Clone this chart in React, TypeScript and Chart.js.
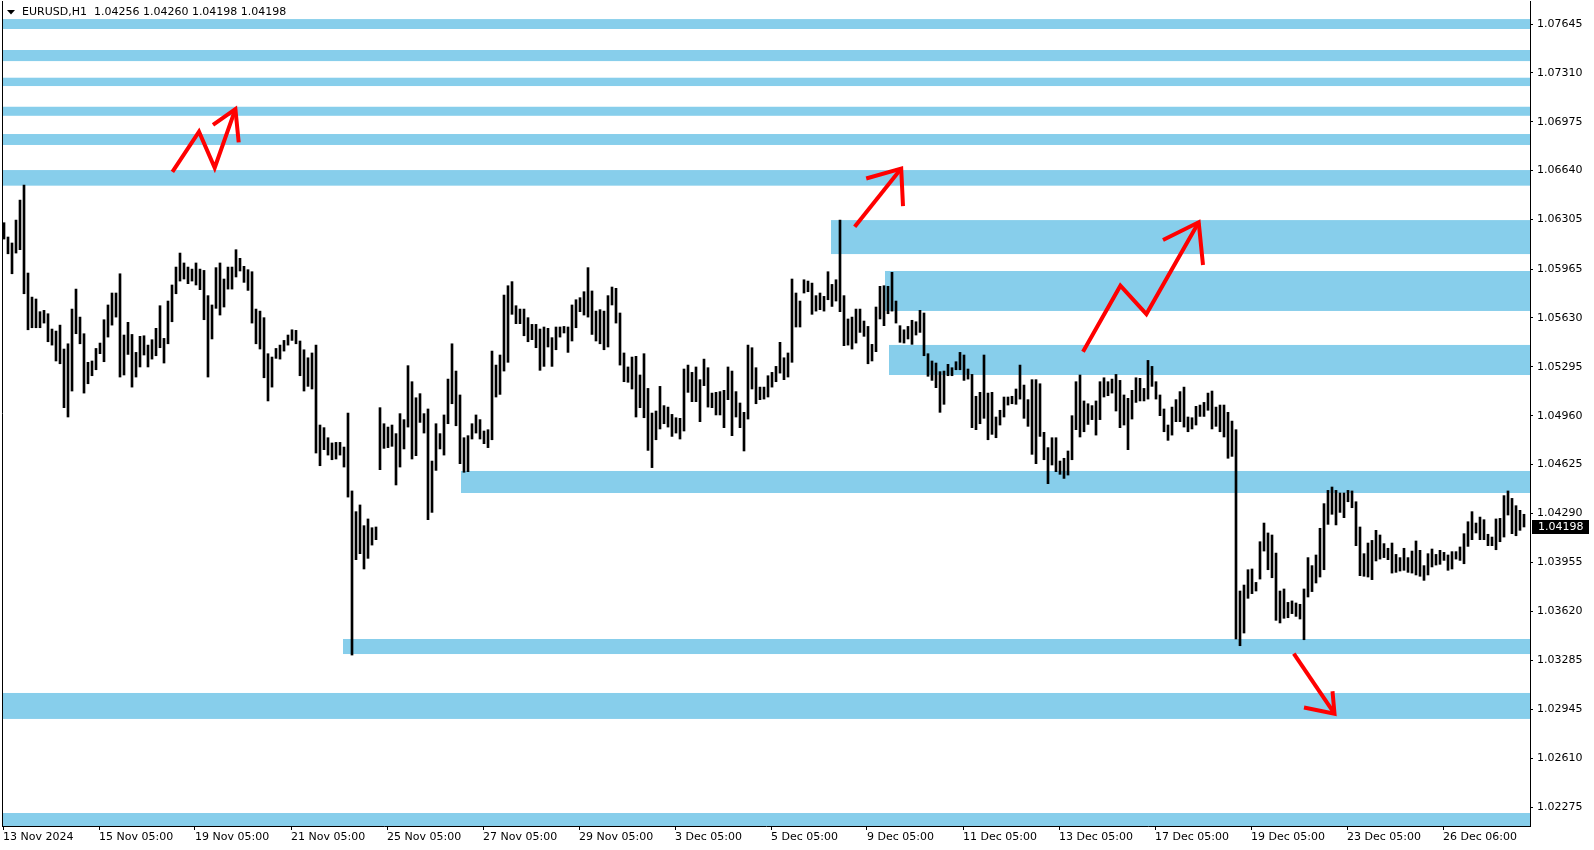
import React, { useEffect, useRef } from 'react';
import { Chart, registerables } from 'chart.js';

Chart.register(...registerables);

// ---------- DATA ----------
const symbolTitle = 'EURUSD,H1';
const lastQuote = [1.04256, 1.0426, 1.04198, 1.04198]; // open high low close of the last H1 bar

// Each entry = two H1 bars (2-hour high / low), in time order
const highs = [
  1.06283, 1.06185, 1.06144, 1.06301, 1.06438, 1.06541, 1.05938, 1.05773, 1.0576, 1.05673,
  1.05682, 1.05659, 1.05554, 1.0554, 1.05581, 1.05417, 1.05453, 1.05691, 1.05828, 1.05636,
  1.05522, 1.05326, 1.05335, 1.05421, 1.05458, 1.05618, 1.05719, 1.05801, 1.05801, 1.05933,
  1.05513, 1.056, 1.05517, 1.05394, 1.05504, 1.05508, 1.05444, 1.05481, 1.05559, 1.05714,
  1.0549, 1.05746, 1.05856, 1.05979, 1.06075, 1.06007, 1.05979, 1.05965, 1.06007, 1.05965,
  1.05956, 1.05783, 1.05719, 1.05975, 1.06007, 1.05897, 1.05979, 1.05979, 1.06098, 1.06039,
  1.05984, 1.05961, 1.05947, 1.05691, 1.05677, 1.05632, 1.05385, 1.05362, 1.05421, 1.05444,
  1.05476, 1.05513, 1.05549, 1.05545, 1.05472, 1.05412, 1.05357, 1.0539, 1.05444, 1.04896,
  1.04878, 1.04809, 1.04773, 1.04777, 1.04777, 1.04745, 1.04978, 1.04444, 1.04302, 1.04348,
  1.04206, 1.04252, 1.04192, 1.04197, 1.05015, 1.04905, 1.04882, 1.04896, 1.04837, 1.04974,
  1.04933, 1.05303, 1.05193, 1.05083, 1.05111, 1.04974, 1.05006, 1.04649, 1.04905, 1.04837,
  1.04965, 1.05211, 1.05453, 1.05266, 1.05102, 1.04809, 1.04823, 1.04905, 1.04965, 1.04933,
  1.04855, 1.04864, 1.05403, 1.05307, 1.05376, 1.05787, 1.05851, 1.05879, 1.05714, 1.05691,
  1.05691, 1.05632, 1.05586, 1.05586, 1.05554, 1.05568, 1.05559, 1.05495, 1.05568, 1.05568,
  1.05572, 1.05568, 1.05719, 1.05755, 1.05769, 1.0581, 1.05975, 1.05815, 1.05677, 1.05687,
  1.05677, 1.05783, 1.05842, 1.05833, 1.05664, 1.0539, 1.05294, 1.05362, 1.05367, 1.05239,
  1.05385, 1.05147, 1.04978, 1.04992, 1.05161, 1.05029, 1.05019, 1.04969, 1.04946, 1.04942,
  1.0528, 1.05307, 1.05257, 1.05294, 1.05207, 1.05348, 1.05289, 1.05115, 1.0512, 1.05125,
  1.05134, 1.05294, 1.05266, 1.05125, 1.05047, 1.04983, 1.05444, 1.05426, 1.05289, 1.05156,
  1.05156, 1.05234, 1.05257, 1.05298, 1.05463, 1.05357, 1.0539, 1.05897, 1.05801, 1.05746,
  1.05892, 1.05883, 1.05869, 1.05783, 1.05801, 1.05778, 1.05947, 1.0586, 1.05892, 1.06301,
  1.05783, 1.05623, 1.05636, 1.05691, 1.05691, 1.05609, 1.05572, 1.05449, 1.05705, 1.05847,
  1.05851, 1.05847, 1.05943, 1.05746, 1.05577, 1.05549, 1.05572, 1.05614, 1.05604, 1.05682,
  1.05664, 1.05385, 1.05335, 1.05321, 1.05262, 1.05266, 1.05312, 1.05289, 1.0533, 1.05394,
  1.05376, 1.0528, 1.05243, 1.05093, 1.0512, 1.05376, 1.05115, 1.0512, 1.04951, 1.04997,
  1.05088, 1.05088, 1.05093, 1.05143, 1.05307, 1.0517, 1.0507, 1.05207, 1.05207, 1.05179,
  1.04846, 1.04741, 1.04809, 1.04809, 1.04649, 1.04668, 1.04718, 1.0496, 1.05193, 1.05239,
  1.05061, 1.05042, 1.05029, 1.05061, 1.05193, 1.0522, 1.05193, 1.05211, 1.05243, 1.05202,
  1.05102, 1.05079, 1.05134, 1.0522, 1.05216, 1.05147, 1.05339, 1.05298, 1.05193, 1.05102,
  1.05006, 1.04896, 1.05019, 1.0507, 1.05125, 1.05156, 1.04951, 1.04946, 1.05024, 1.05033,
  1.05051, 1.05115, 1.05129, 1.05019, 1.05033, 1.05033, 1.04983, 1.04923, 1.04864, 1.03758,
  1.03799, 1.03904, 1.03909, 1.03817, 1.04096, 1.04224, 1.04156, 1.04142, 1.04018, 1.03758,
  1.03772, 1.0368, 1.0369, 1.03676, 1.03667, 1.03772, 1.03987, 1.03932, 1.04005, 1.04188,
  1.04357, 1.04448, 1.04471, 1.04448, 1.0443, 1.0443, 1.04448, 1.04444, 1.0437, 1.04197,
  1.04014, 1.04087, 1.04105, 1.04174, 1.04142, 1.04083, 1.04051, 1.04087, 1.04009, 1.03987,
  1.04051, 1.03987, 1.04032, 1.04101, 1.04037, 1.03932, 1.04014, 1.04046, 1.04009, 1.04037,
  1.04023, 1.04005, 1.04028, 1.04028, 1.0406, 1.04151, 1.04233, 1.04302, 1.04224, 1.04265,
  1.04247, 1.04147, 1.04128, 1.04252, 1.04256, 1.04412, 1.04444, 1.04393, 1.04343, 1.04311,
  1.04284,
];

const lows = [
  1.06171, 1.0607, 1.05933, 1.06075, 1.06098, 1.05796, 1.05549, 1.05563, 1.05563, 1.05563,
  1.05595, 1.05467, 1.05444, 1.05335, 1.05316, 1.05015, 1.04951, 1.05129, 1.05522, 1.05453,
  1.05115, 1.05179, 1.05234, 1.05275, 1.05385, 1.0533, 1.05499, 1.05581, 1.05636, 1.05225,
  1.05239, 1.0538, 1.05156, 1.05225, 1.05294, 1.05376, 1.05294, 1.05348, 1.05371, 1.05426,
  1.05321, 1.05453, 1.05604, 1.05796, 1.05883, 1.05897, 1.05865, 1.05883, 1.05856, 1.05824,
  1.05618, 1.05225, 1.05486, 1.05696, 1.0565, 1.05705, 1.05828, 1.05828, 1.05911, 1.05952,
  1.05874, 1.05819, 1.05595, 1.05453, 1.05417, 1.0522, 1.05061, 1.05156, 1.05353, 1.05348,
  1.05403, 1.05444, 1.05476, 1.05453, 1.05234, 1.05129, 1.05161, 1.05143, 1.04704, 1.04617,
  1.04727, 1.0469, 1.04658, 1.04663, 1.0469, 1.04608, 1.04402, 1.03319, 1.03973, 1.04014,
  1.03909, 1.03982, 1.04073, 1.0411, 1.0459, 1.04736, 1.04741, 1.0475, 1.04485, 1.04608,
  1.04732, 1.04882, 1.04663, 1.04686, 1.04914, 1.04841, 1.04247, 1.04297, 1.04585, 1.04732,
  1.0469, 1.04905, 1.05042, 1.04891, 1.04631, 1.04572, 1.04576, 1.048, 1.04841, 1.048,
  1.04768, 1.04741, 1.04795, 1.05088, 1.05106, 1.05266, 1.05326, 1.05655, 1.05591, 1.05591,
  1.05508, 1.05467, 1.05481, 1.05426, 1.05271, 1.05298, 1.05431, 1.05298, 1.05412, 1.05499,
  1.05527, 1.05394, 1.05472, 1.05563, 1.05673, 1.0565, 1.05636, 1.05517, 1.05472, 1.05453,
  1.05412, 1.05431, 1.05719, 1.05595, 1.05307, 1.05193, 1.05189, 1.05143, 1.04951, 1.05015,
  1.04946, 1.04722, 1.04604, 1.04795, 1.04869, 1.04905, 1.04882, 1.04818, 1.04841, 1.048,
  1.04855, 1.0512, 1.05056, 1.05056, 1.04919, 1.05166, 1.05019, 1.05015, 1.04965, 1.04965,
  1.04878, 1.0507, 1.04823, 1.04951, 1.04878, 1.04718, 1.04937, 1.05143, 1.05042, 1.0507,
  1.05074, 1.05088, 1.05156, 1.05193, 1.05252, 1.05207, 1.05225, 1.05326, 1.05568, 1.05568,
  1.05801, 1.0581, 1.05655, 1.05677, 1.05687, 1.05677, 1.05755, 1.05709, 1.05746, 1.05673,
  1.0544, 1.05444, 1.05417, 1.05458, 1.05531, 1.05504, 1.05316, 1.05335, 1.05399, 1.05623,
  1.05577, 1.05659, 1.05677, 1.05595, 1.05463, 1.05458, 1.05486, 1.05449, 1.05513, 1.05531,
  1.05371, 1.0523, 1.05202, 1.05152, 1.04983, 1.05038, 1.05234, 1.05234, 1.05275, 1.05275,
  1.05202, 1.05211, 1.04878, 1.04864, 1.04905, 1.04942, 1.04795, 1.04832, 1.04809, 1.04896,
  1.04951, 1.05033, 1.05042, 1.05038, 1.05074, 1.04942, 1.04887, 1.04695, 1.04631, 1.04818,
  1.04658, 1.04494, 1.04622, 1.04576, 1.04558, 1.0453, 1.04553, 1.04658, 1.04864, 1.04814,
  1.0485, 1.049, 1.04933, 1.04827, 1.04933, 1.05088, 1.05097, 1.05115, 1.04992, 1.04878,
  1.04896, 1.04727, 1.04937, 1.05051, 1.05061, 1.05061, 1.05074, 1.05161, 1.05074, 1.0496,
  1.0485, 1.04791, 1.04827, 1.04919, 1.04919, 1.04882, 1.0485, 1.04869, 1.04896, 1.04955,
  1.04955, 1.04997, 1.04869, 1.04887, 1.0485, 1.04814, 1.04668, 1.04681, 1.03429, 1.03383,
  1.0347, 1.03708, 1.0374, 1.03758, 1.0384, 1.04032, 1.03904, 1.03849, 1.03557, 1.03539,
  1.03571, 1.03575, 1.03603, 1.03584, 1.03566, 1.03424, 1.03717, 1.03754, 1.03813, 1.03854,
  1.03904, 1.04215, 1.04284, 1.04211, 1.04297, 1.04261, 1.0437, 1.04329, 1.04069, 1.03863,
  1.03859, 1.03854, 1.03836, 1.03964, 1.03977, 1.03987, 1.03973, 1.03881, 1.03886, 1.03895,
  1.039, 1.03886, 1.03881, 1.03868, 1.03859, 1.03831, 1.03868, 1.03923, 1.03936, 1.03941,
  1.03968, 1.039, 1.03909, 1.03977, 1.03968, 1.03945, 1.04064, 1.0411, 1.04156, 1.0411,
  1.0411, 1.04069, 1.04069, 1.04041, 1.04096, 1.04128, 1.04279, 1.04151, 1.04137, 1.04174,
  1.04197,
];

// time axis (H1 bar index of each label)
const xTickBars = [0, 48, 96, 144, 192, 240, 288, 336, 384, 432, 480, 528, 576, 624, 672, 720];
const xTickLabels = [
  '13 Nov 2024', '15 Nov 05:00', '19 Nov 05:00', '21 Nov 05:00', '25 Nov 05:00', '27 Nov 05:00',
  '29 Nov 05:00', '3 Dec 05:00', '5 Dec 05:00', '9 Dec 05:00', '11 Dec 05:00', '13 Dec 05:00',
  '17 Dec 05:00', '19 Dec 05:00', '23 Dec 05:00', '26 Dec 06:00',
];
const yTickValues = [
  1.07645, 1.0731, 1.06975, 1.0664, 1.06305, 1.05965, 1.0563, 1.05295, 1.0496, 1.04625,
  1.0429, 1.03955, 1.0362, 1.03285, 1.02945, 1.0261, 1.02275,
];
const priceMin = 1.02147;
const priceMax = 1.07803;

// supply / demand zones: start bar (null = whole chart), upper price, lower price
const zoneStart = [null, null, null, null, null, null, 414, 441, 443, 229, 170, null, null];
const zoneTop = [1.07679, 1.07467, 1.07277, 1.07078, 1.06891, 1.06644, 1.06301, 1.05952, 1.05445, 1.04581, 1.03429, 1.03059, 1.02236];
const zoneBottom = [1.07611, 1.07391, 1.0722, 1.07016, 1.06816, 1.06537, 1.06068, 1.05678, 1.05239, 1.0443, 1.03326, 1.02881, 1.02147];

// hand-drawn arrows: [bar index, price] points
const arrowPaths = [
  [[84.7, 1.06632], [98, 1.06907], [105.85, 1.0666], [116.2, 1.07062]],
  [[425.85, 1.06256], [449.1, 1.06654]],
  [[540, 1.05399], [558.7, 1.05851], [571.7, 1.05657], [597.85, 1.06286]],
  [[645.4, 1.03328], [665.75, 1.02917]],
];
const arrowHeads = [
  [[105, 1.06953], [116.2, 1.07062], [117.85, 1.06834]],
  [[431.6, 1.06586], [449.1, 1.06654], [450, 1.06397]],
  [[580, 1.06164], [597.85, 1.06286], [600, 1.05993]],
  [[650.5, 1.02959], [665.75, 1.02917], [664.75, 1.03071]],
];

const FONT = "'DejaVu Sans', sans-serif";

export default function App() {
  const ref = useRef<HTMLCanvasElement>(null);

  useEffect(() => {
    const canvas = ref.current;
    if (!canvas) return;

    const bars = highs.map((h, i) => ({ x: 2 * i + 0.5, y: [lows[i], h] }));

    const overlay = {
      id: 'overlay',
      beforeDatasetsDraw(chart: any) {
        const { ctx, chartArea } = chart;
        const xs = chart.scales.x;
        const ys = chart.scales.y;
        ctx.save();
        ctx.fillStyle = '#87CEEB';
        for (let i = 0; i < zoneTop.length; i++) {
          const x0 = zoneStart[i] === null ? chartArea.left : xs.getPixelForValue(zoneStart[i]);
          const y0 = ys.getPixelForValue(zoneTop[i]);
          const y1 = ys.getPixelForValue(zoneBottom[i]);
          ctx.fillRect(x0, y0, chartArea.right - x0, y1 - y0);
        }
        ctx.restore();
      },
      afterDatasetsDraw(chart: any) {
        const { ctx } = chart;
        const xs = chart.scales.x;
        const ys = chart.scales.y;
        ctx.save();
        ctx.strokeStyle = '#FF0000';
        ctx.lineWidth = 4;
        ctx.lineJoin = 'miter';
        ctx.lineCap = 'butt';
        const drawPath = (pts: number[][]) => {
          ctx.beginPath();
          pts.forEach((p, i) => {
            const px = xs.getPixelForValue(p[0]);
            const py = ys.getPixelForValue(p[1]);
            if (i === 0) ctx.moveTo(px, py);
            else ctx.lineTo(px, py);
          });
          ctx.stroke();
        };
        arrowPaths.forEach(drawPath);
        arrowHeads.forEach(drawPath);
        ctx.restore();
      },
      afterDraw(chart: any) {
        const { ctx, chartArea } = chart;
        const ys = chart.scales.y;
        ctx.save();
        // left frame line
        ctx.strokeStyle = '#000';
        ctx.lineWidth = 1;
        ctx.beginPath();
        ctx.moveTo(chartArea.left + 0.5, chartArea.top);
        ctx.lineTo(chartArea.left + 0.5, chartArea.bottom);
        ctx.stroke();
        // header
        ctx.fillStyle = '#000';
        ctx.beginPath();
        ctx.moveTo(7, 10);
        ctx.lineTo(15, 10);
        ctx.lineTo(11, 14.5);
        ctx.closePath();
        ctx.fill();
        ctx.font = `11px ${FONT}`;
        ctx.textBaseline = 'middle';
        ctx.textAlign = 'left';
        ctx.fillText(
          `${symbolTitle}  ${lastQuote.map((v) => v.toFixed(5)).join(' ')}`,
          22,
          12.5
        );
        // current price label
        const close = lastQuote[3];
        const py = Math.round(ys.getPixelForValue(close));
        ctx.fillStyle = '#000';
        ctx.fillRect(chartArea.right + 2, py - 7, 57, 14);
        ctx.fillStyle = '#fff';
        ctx.fillText(close.toFixed(5), chartArea.right + 8, py + 0.5);
        ctx.restore();
      },
    };

    const chart = new Chart(canvas, {
      type: 'bar',
      data: {
        datasets: [
          {
            data: bars as any,
            backgroundColor: '#000',
            borderWidth: 0,
            barThickness: 2,
            grouped: false,
          } as any,
        ],
      },
      options: {
        responsive: false,
        maintainAspectRatio: false,
        animation: false,
        devicePixelRatio: 1,
        layout: { padding: { left: 2, top: 1, right: 0, bottom: 0 }, autoPadding: false } as any,
        plugins: { legend: { display: false }, tooltip: { enabled: false } },
        scales: {
          x: {
            type: 'linear',
            position: 'bottom',
            offset: false,
            min: -0.5,
            max: 763.5,
            afterBuildTicks: (s: any) => {
              s.ticks = xTickBars.map((v) => ({ value: v }));
            },
            afterFit: (s: any) => {
              s.height = 24;
              s.paddingLeft = 0;
              s.paddingRight = 0;
            },
            grid: { offset: false, drawOnChartArea: false, drawTicks: true, tickLength: 4, color: '#000' },
            border: { display: true, color: '#000' },
            ticks: {
              align: 'start',
              autoSkip: false,
              maxRotation: 0,
              minRotation: 0,
              padding: 1,
              color: '#000',
              font: { family: FONT, size: 11 },
              callback: (v: any) => {
                const i = xTickBars.indexOf(Number(v));
                return i >= 0 ? xTickLabels[i] : '';
              },
            },
          },
          y: {
            type: 'linear',
            position: 'right',
            min: priceMin,
            max: priceMax,
            afterBuildTicks: (s: any) => {
              s.ticks = yTickValues.map((v) => ({ value: v }));
            },
            afterFit: (s: any) => {
              s.width = 64;
              s.paddingTop = 0;
              s.paddingBottom = 0;
            },
            grid: { drawOnChartArea: false, drawTicks: true, tickLength: 3, color: '#000' },
            border: { display: true, color: '#000' },
            ticks: {
              padding: 4,
              color: '#000',
              font: { family: FONT, size: 11 },
              callback: (v: any) => Number(v).toFixed(5),
            },
          },
        },
      },
      plugins: [overlay],
    });

    return () => chart.destroy();
  }, []);

  return (
    <div style={{ position: 'absolute', left: 0, top: 0, width: 1594, height: 850, background: '#fff' }}>
      <canvas ref={ref} width={1594} height={850} style={{ display: 'block' }} />
    </div>
  );
}
